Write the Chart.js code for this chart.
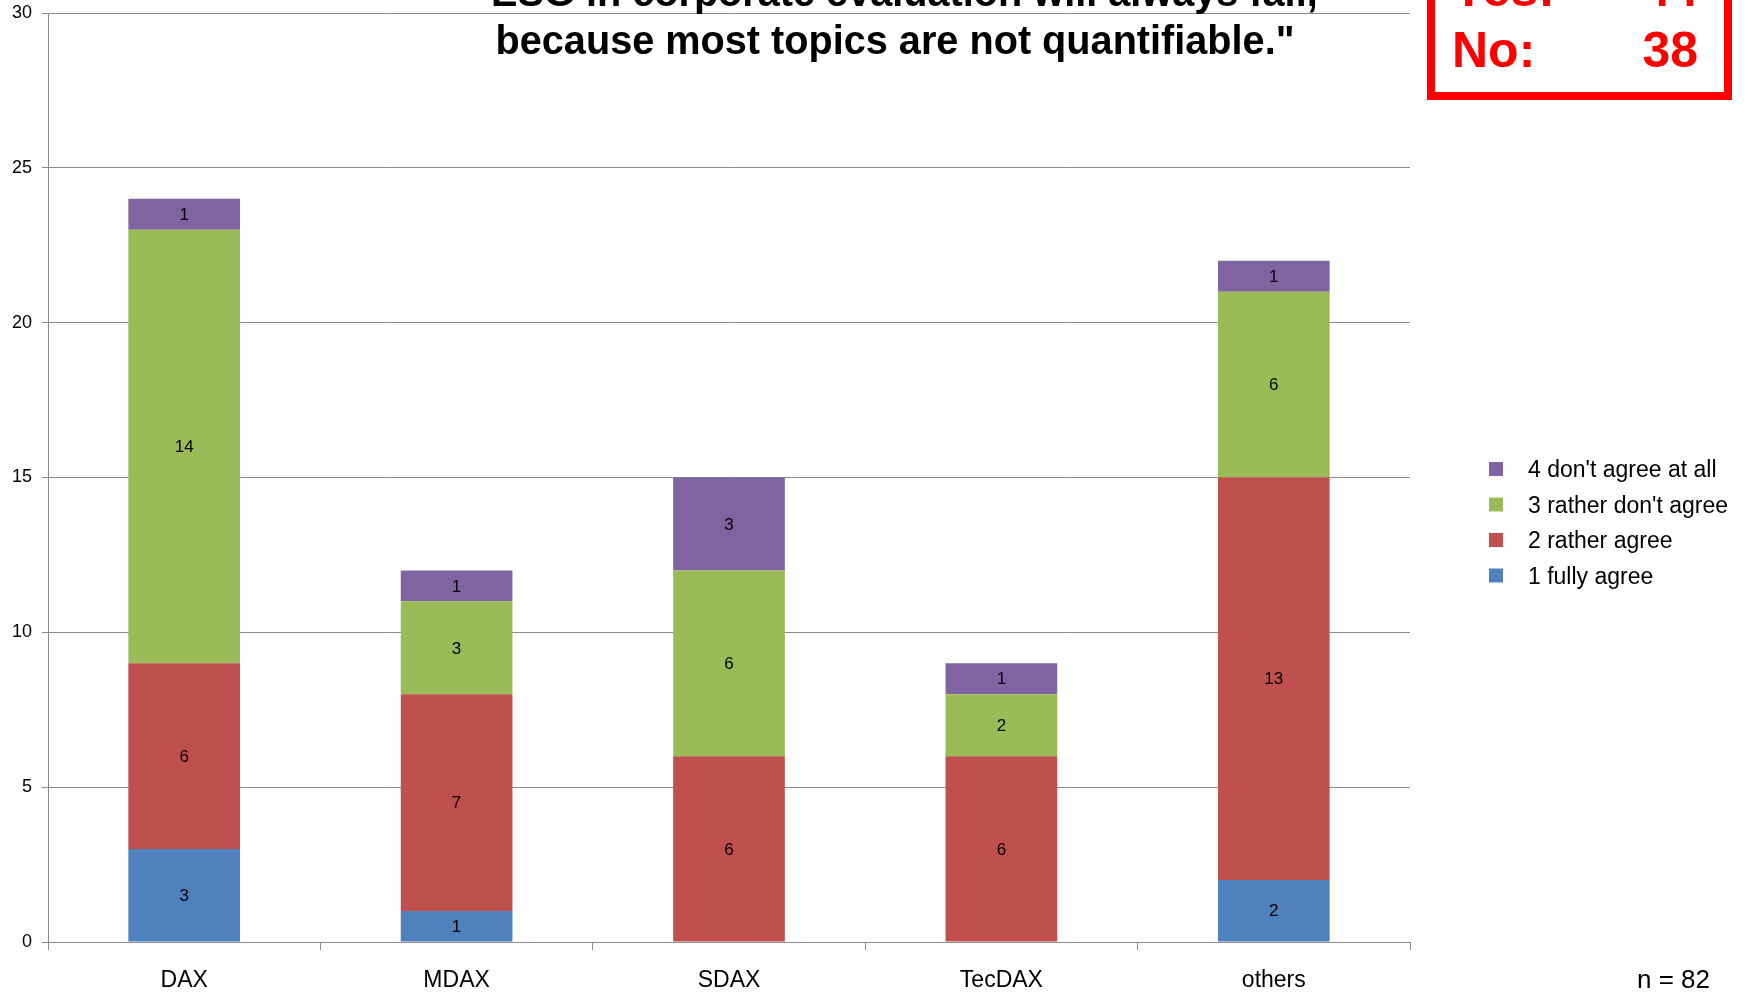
<!DOCTYPE html>
<html>
<head>
<meta charset="utf-8">
<title>ESG survey</title>
<script src="https://cdn.jsdelivr.net/npm/chart.js@4.4.0/dist/chart.umd.min.js"></script>
<style>
  body { margin: 0; background: #fff; }
  canvas { display: block; }
</style>
</head>
<body>
<canvas id="chart" width="1750" height="992"></canvas>
<script>
// categories and answer counts per group
const groups = ["DAX", "MDAX", "SDAX", "TecDAX", "others"];
const fullyAgree = [3, 1, 0, 0, 2];
const ratherAgree = [6, 7, 6, 6, 13];
const ratherDontAgree = [14, 3, 6, 2, 6];
const dontAgreeAtAll = [1, 1, 3, 1, 1];
const yTicks = [0, 5, 10, 15, 20, 25, 30];

const titleLines = ["\"ESG in corporate evaluation will always fail,", "because most topics are not quantifiable.\""];
const yesCount = 44;
const noCount = 38;
const sampleNote = "n = 82";

const gridGrey = "#8c8c8c";

// numbers in the middle of each segment
const segmentLabels = {
  id: "segmentLabels",
  afterDatasetsDraw(chart) {
    const ctx = chart.ctx;
    ctx.save();
    ctx.fillStyle = "#000";
    ctx.font = "17px 'Liberation Sans'";
    ctx.textAlign = "center";
    ctx.textBaseline = "middle";
    chart.data.datasets.forEach((ds, i) => {
      const meta = chart.getDatasetMeta(i);
      meta.data.forEach((bar, j) => {
        const v = ds.data[j];
        if (!v) return;
        const p = bar.getProps(["x", "y", "base"], true);
        ctx.fillText(String(v), p.x, (p.y + p.base) / 2 + 1);
      });
    });
    ctx.restore();
  }
};

// title, red yes/no box, legend and n
const extras = {
  id: "extras",
  afterDraw(chart) {
    const ctx = chart.ctx;
    ctx.save();

    // title, squeezed like the original
    ctx.fillStyle = "#000";
    ctx.font = "bold 40px 'Liberation Sans'";
    ctx.textAlign = "center";
    ctx.textBaseline = "alphabetic";
    const sx = 799 / ctx.measureText(titleLines[1]).width;
    ctx.save();
    ctx.translate(895, 0);
    ctx.scale(sx, 1);
    ctx.fillText(titleLines[0], 0, 6);
    ctx.fillText(titleLines[1], 0, 54);
    ctx.restore();

    // red box
    ctx.strokeStyle = "#ff0000";
    ctx.lineWidth = 8;
    ctx.strokeRect(1431, -40, 297, 136);
    ctx.fillStyle = "#ff0000";
    ctx.font = "bold 50px 'Liberation Sans'";
    ctx.textAlign = "left";
    ctx.fillText("Yes:", 1452, 6);
    ctx.fillText("No:", 1452, 67);
    ctx.textAlign = "right";
    ctx.fillText(String(yesCount), 1698, 6);
    ctx.fillText(String(noCount), 1698, 67);

    // legend, top entry is the last dataset
    ctx.font = "23px 'Liberation Sans'";
    ctx.textAlign = "left";
    ctx.textBaseline = "middle";
    const ds = chart.data.datasets.slice().reverse();
    ds.forEach((d, i) => {
      const y = 470 + i * 35.5;
      ctx.fillStyle = d.backgroundColor;
      ctx.fillRect(1489, y - 8, 14, 14);
      ctx.fillStyle = "#000";
      ctx.fillText(d.label, 1528, y + 1);
    });

    // sample size
    ctx.font = "26px 'Liberation Sans'";
    ctx.textAlign = "left";
    ctx.fillText(sampleNote, 1637, 981);

    ctx.restore();
  }
};

new Chart(document.getElementById("chart"), {
  type: "bar",
  data: {
    labels: groups,
    datasets: [
      { label: "1 fully agree", data: fullyAgree, backgroundColor: "#4f81bd" },
      { label: "2 rather agree", data: ratherAgree, backgroundColor: "#c0504d" },
      { label: "3 rather don't agree", data: ratherDontAgree, backgroundColor: "#9bbb59" },
      { label: "4 don't agree at all", data: dontAgreeAtAll, backgroundColor: "#8064a2" }
    ]
  },
  options: {
    responsive: false,
    animation: false,
    devicePixelRatio: 1,
    layout: { padding: { top: 13, right: 340, left: 0, bottom: 0 } },
    datasets: { bar: { categoryPercentage: 1, barPercentage: 0.41 } },
    plugins: {
      legend: { display: false },
      tooltip: { enabled: false }
    },
    scales: {
      x: {
        stacked: true,
        afterFit(scale) { scale.height = 50; },
        border: { color: gridGrey, width: 1 },
        grid: { drawOnChartArea: false, drawTicks: true, tickLength: 8, color: gridGrey, offset: true },
        ticks: { color: "#000", font: { size: 23, family: "'Liberation Sans'" }, padding: 17 }
      },
      y: {
        stacked: true,
        min: 0,
        max: 30,
        afterFit(scale) {
          scale.width = 48;
          scale.paddingTop = 0;
          scale.paddingBottom = 0;
        },
        afterBuildTicks(scale) { scale.ticks = yTicks.map(v => ({ value: v })); },
        border: { color: gridGrey, width: 1 },
        grid: { color: gridGrey, tickLength: 6 },
        ticks: { color: "#000", font: { size: 18, family: "'Liberation Sans'" }, padding: 10 }
      }
    }
  },
  plugins: [segmentLabels, extras]
});
</script>
</body>
</html>
